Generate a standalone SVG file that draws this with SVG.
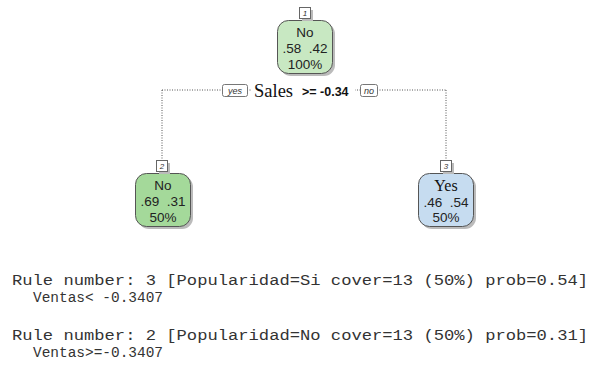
<svg xmlns="http://www.w3.org/2000/svg" width="592" height="371" viewBox="0 0 592 371">
<style>
.node{stroke:#555;stroke-width:1}
.shadow{fill:#bbb}
.t{font-family:"Liberation Sans",Arial,sans-serif;font-size:13.5px;fill:#222;text-anchor:middle}
.serif{font-family:"Liberation Serif","Times New Roman",serif;font-size:17px;fill:#111}
.num{fill:#fff;stroke:#666;stroke-width:1}
.nt{font-family:"Liberation Sans",Arial,sans-serif;font-size:8px;font-style:italic;fill:#333;text-anchor:middle}
.dot{stroke:#555;stroke-width:1;stroke-dasharray:1,1.5;fill:none}
.lab{fill:#fff;stroke:#777;stroke-width:1}
.mono{font-family:"Liberation Mono","DejaVu Sans Mono",monospace;font-size:14px;fill:#333}
</style>
<rect width="592" height="371" fill="#fff"/>
<g id="connectors">
<path class="dot" d="M162,90 H447 M162,90 V161 M446,90 V161"/>
</g>
<g id="split-label">
<rect class="lab" x="222.5" y="84.5" width="25" height="12" rx="2"/>
<text class="nt" x="235" y="94" style="font-size:9px">yes</text>
<rect x="251" y="82" width="104" height="16" fill="#fff"/>
<text class="serif" x="254" y="97" style="font-size:18.5px">Sales</text>
<text x="302" y="96" style="font-family:'Liberation Sans',Arial,sans-serif;font-size:12.5px;font-weight:bold;fill:#111">&gt;= -0.34</text>
<rect class="lab" x="360.5" y="84.5" width="17" height="12" rx="2"/>
<text class="nt" x="369" y="94" style="font-size:9px">no</text>
</g>
<g id="node1">
<rect class="shadow" x="280" y="23" width="55" height="53" rx="11"/>
<rect class="node" x="277.5" y="20.5" width="55" height="53" rx="11" fill="#c8e8c2"/>
<rect class="shadow" x="302" y="10" width="11" height="11"/>
<rect class="num" x="299.5" y="7.5" width="11" height="11"/>
<text class="nt" x="305" y="16">1</text>
<text class="t" x="305" y="37">No</text>
<text class="t" x="305" y="53" xml:space="preserve">.58  .42</text>
<text class="t" x="305" y="69">100%</text>
</g>
<g id="node2">
<rect class="shadow" x="138" y="176" width="55" height="53" rx="11"/>
<rect class="node" x="135.5" y="173.5" width="55" height="53" rx="11" fill="#a4d99a"/>
<rect class="shadow" x="159" y="163" width="11" height="11"/>
<rect class="num" x="156.5" y="160.5" width="11" height="11"/>
<text class="nt" x="162" y="169">2</text>
<text class="t" x="163" y="190">No</text>
<text class="t" x="163" y="206" xml:space="preserve">.69  .31</text>
<text class="t" x="163" y="222">50%</text>
</g>
<g id="node3">
<rect class="shadow" x="421" y="176" width="55" height="53" rx="11"/>
<rect class="node" x="418.5" y="173.5" width="55" height="53" rx="11" fill="#c6dcf0"/>
<rect class="shadow" x="443" y="163" width="11" height="11"/>
<rect class="num" x="440.5" y="160.5" width="11" height="11"/>
<text class="nt" x="446" y="169">3</text>
<text class="serif" x="446" y="191" text-anchor="middle" style="font-size:16px">Yes</text>
<text class="t" x="446" y="207" xml:space="preserve">.46  .54</text>
<text class="t" x="446" y="222">50%</text>
</g>
<g id="rules">
<text class="mono" x="12" y="285" textLength="576" lengthAdjust="spacingAndGlyphs" xml:space="preserve">Rule number: 3 [Popularidad=Si cover=13 (50%) prob=0.54]</text>
<text class="mono" x="33" y="302" textLength="130" lengthAdjust="spacingAndGlyphs" xml:space="preserve">Ventas&lt; -0.3407</text>
<text class="mono" x="12" y="340" textLength="576" lengthAdjust="spacingAndGlyphs" xml:space="preserve">Rule number: 2 [Popularidad=No cover=13 (50%) prob=0.31]</text>
<text class="mono" x="33" y="357" textLength="130" lengthAdjust="spacingAndGlyphs" xml:space="preserve">Ventas&gt;=-0.3407</text>
</g>
</svg>
